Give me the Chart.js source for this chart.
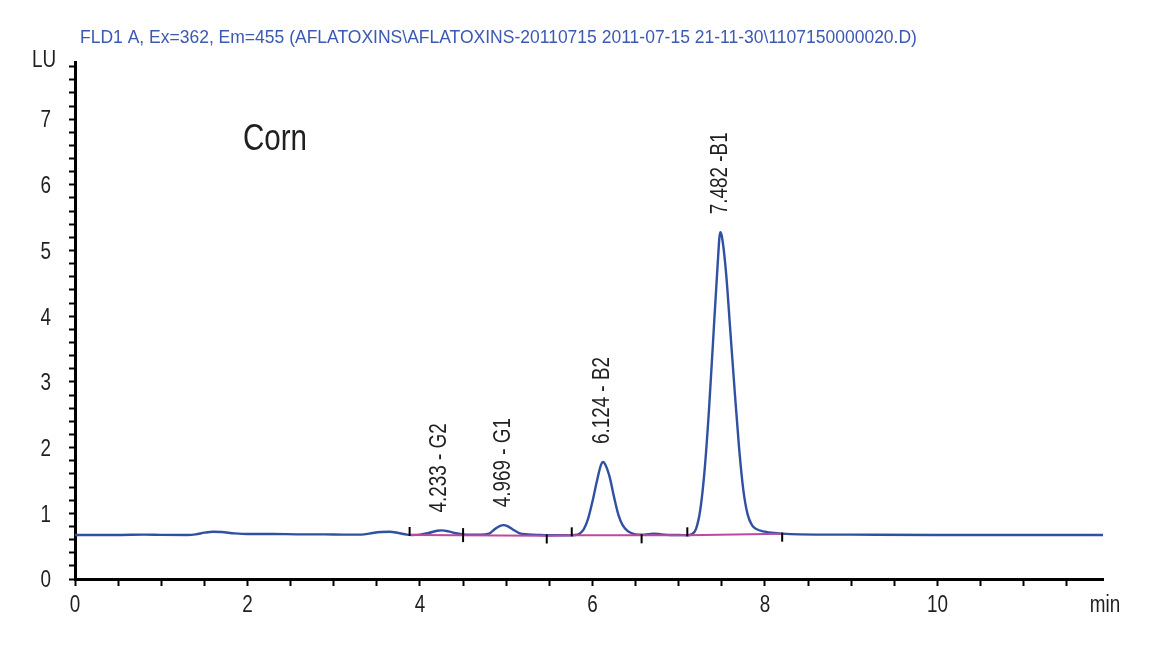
<!DOCTYPE html>
<html>
<head>
<meta charset="utf-8">
<script src="https://cdn.jsdelivr.net/npm/chart.js@4.4.1/dist/chart.umd.min.js"></script>
<style>
    html, body { margin: 0; padding: 0; background: #fff; }
    #wrap { width: 1160px; height: 649px; position: relative; }
</style>
</head>
<body>
<div id="wrap"><canvas id="chart1"></canvas></div>
<script>
// signal trace (min, LU)
const times = [
    0, 0.5, 0.8, 1.0, 1.3, 1.4, 1.5, 1.6, 1.7, 1.85, 2.0, 2.3, 2.6, 2.9, 3.1,
    3.2, 3.35, 3.45, 3.55, 3.65, 3.75, 3.85, 3.9,
    4.0, 4.1, 4.2, 4.25, 4.33, 4.4, 4.5, 4.6, 4.7,
    4.8, 4.87, 4.93, 4.97, 5.02, 5.08, 5.15, 5.25, 5.4, 5.55, 5.7,
    5.8, 5.85, 5.9, 5.95, 6.0, 6.05, 6.1, 6.124, 6.15, 6.2, 6.25, 6.3, 6.35, 6.4, 6.45, 6.5, 6.6, 6.7, 6.8, 6.9,
    7.0, 7.1, 7.15, 7.2, 7.25, 7.3, 7.35, 7.4, 7.45, 7.482, 7.5, 7.55, 7.6, 7.65, 7.7, 7.75, 7.8, 7.85, 7.9,
    8.0, 8.1, 8.2, 8.4, 9.0, 10.0, 11.92
]
const signal = [
    0.67, 0.67, 0.675, 0.672, 0.67, 0.68, 0.705, 0.72, 0.715, 0.695, 0.685, 0.685, 0.68, 0.68, 0.675,
    0.675, 0.68, 0.70, 0.715, 0.72, 0.70, 0.675, 0.67,
    0.675, 0.70, 0.735, 0.74, 0.725, 0.70, 0.68, 0.675, 0.675,
    0.69, 0.76, 0.81, 0.82, 0.80, 0.75, 0.70, 0.68, 0.67, 0.665, 0.665,
    0.67, 0.69, 0.76, 0.92, 1.18, 1.48, 1.74, 1.78, 1.74, 1.55, 1.25, 0.98, 0.82, 0.74, 0.70, 0.68, 0.675, 0.69, 0.68, 0.67,
    0.67, 0.665, 0.68, 0.76, 1.05, 1.65, 2.55, 3.65, 4.75, 5.28, 5.22, 4.65, 3.75, 2.85, 2.00, 1.35, 0.98, 0.82, 0.76,
    0.72, 0.70, 0.69, 0.68, 0.675, 0.67, 0.67
]

// integration baseline
const baseTimes = [3.88, 5.47, 5.76, 6.57, 7.10, 8.20]
const baseValues = [0.67, 0.66, 0.665, 0.665, 0.665, 0.69]

// peak start / end marks: direction 1 up, -1 down, 0 both
const markTimes = [3.88, 4.50, 5.47, 5.76, 6.57, 7.10, 8.20]
const markValues = [0.67, 0.668, 0.662, 0.665, 0.665, 0.665, 0.69]
const markDirs = [1, 0, -1, 1, -1, 1, -1]

// peak annotations
const peakTimes = [4.233, 4.969, 6.124, 7.482]
const peakHeights = [0.74, 0.82, 1.78, 5.28]
const peakNames = ["4.233 - G2", "4.969 - G1", "6.124 - B2", "7.482 -B1"]

const titleText = "FLD1 A, Ex=362, Em=455 (AFLATOXINS\\AFLATOXINS-20110715 2011-07-15 21-11-30\\1107150000020.D)"
const sampleName = "Corn"

const sans = "'Liberation Sans', Arial, sans-serif"
const ink = "#1f1f1f"
const squeeze = 0.82  // no narrow face installed, so squash Liberation Sans

const isWhole = v => Math.abs(v - Math.round(v)) < 1e-6

function narrowText(ctx, text, x, y, size, align, angle) {
    ctx.save()
    ctx.translate(x, y)
    if (angle) ctx.rotate(angle)
    ctx.scale(squeeze, 1)
    ctx.font = size + "px " + sans
    ctx.textAlign = align
    ctx.textBaseline = "middle"
    ctx.fillText(text, 0, 0)
    ctx.restore()
}

const decorations = {
    id: "decorations",
    afterDatasetsDraw(chart) {
        const ctx = chart.ctx
        const xs = chart.scales.x, ys = chart.scales.y
        ctx.save()

        // baseline marks
        ctx.strokeStyle = "#000"
        ctx.lineWidth = 2
        markTimes.forEach((t, i) => {
            const px = xs.getPixelForValue(t)
            const py = ys.getPixelForValue(markValues[i])
            let a = py - 8, b = py + 1
            if (markDirs[i] < 0) { a = py - 1; b = py + 8 }
            if (markDirs[i] == 0) { a = py - 7; b = py + 7 }
            ctx.beginPath()
            ctx.moveTo(px, a)
            ctx.lineTo(px, b)
            ctx.stroke()
        })

        // peak labels, rotated
        ctx.fillStyle = ink
        peakTimes.forEach((t, i) => {
            const px = xs.getPixelForValue(t)
            const py = ys.getPixelForValue(peakHeights[i]) - 18
            narrowText(ctx, peakNames[i], px, py, 23, "left", -Math.PI / 2)
        })
        ctx.restore()
    },
    afterDraw(chart) {
        const ctx = chart.ctx
        const area = chart.chartArea
        const xs = chart.scales.x, ys = chart.scales.y
        ctx.save()

        ctx.fillStyle = "#3b59b3"
        ctx.font = "17.5px " + sans
        ctx.textAlign = "left"
        ctx.textBaseline = "middle"
        ctx.fillText(titleText, 80, 38)

        ctx.fillStyle = ink
        // tick labels
        xs.ticks.forEach(tk => {
            if (isWhole(tk.value) && Math.round(tk.value) % 2 == 0)
                narrowText(ctx, String(Math.round(tk.value)), xs.getPixelForValue(tk.value), area.bottom + 27, 23, "center")
        })
        ys.ticks.forEach(tk => {
            if (isWhole(tk.value))
                narrowText(ctx, String(Math.round(tk.value)), 51, ys.getPixelForValue(tk.value) + 2, 23, "right")
        })

        narrowText(ctx, "LU", 56, area.top - 1, 23, "right")
        narrowText(ctx, "min", area.right + 2, area.bottom + 27, 23, "center")
        narrowText(ctx, sampleName, 243, 140, 36, "left")
        ctx.restore()
    }
}

const chartData = {
    type: "line",
    data: {
        datasets: [
            {
                label: "baseline",
                data: baseTimes.map((t, i) => ({ x: t, y: baseValues[i] })),
                borderColor: "#bb4a9e",
                borderWidth: 2,
                pointRadius: 0,
                order: 0
            },
            {
                label: "FLD1 A",
                data: times.map((t, i) => ({ x: t, y: signal[i] })),
                borderColor: "#3050a2",
                borderWidth: 2.4,
                pointRadius: 0,
                cubicInterpolationMode: "monotone",
                order: 1
            }
        ]
    },
    options: {
        responsive: true,
        maintainAspectRatio: false,
        animation: false,
        layout: { padding: { top: 62, right: 57, left: 0, bottom: 0 } },
        plugins: {
            legend: { display: false },
            tooltip: { enabled: false }
        },
        scales: {
            x: {
                type: "linear",
                min: 0,
                max: 11.92,
                afterFit(scale) { scale.height = 70 },
                border: { display: true, color: "#000", width: 3 },
                grid: { drawOnChartArea: false, drawTicks: true, tickLength: 7, tickColor: "#000", tickWidth: 2 },
                ticks: {
                    stepSize: 0.5,
                    includeBounds: false,
                    autoSkip: false,
                    maxRotation: 0,
                    color: "rgba(0,0,0,0)",
                    callback: v => isWhole(v) ? String(Math.round(v)) : ""
                }
            },
            y: {
                type: "linear",
                min: 0,
                max: 7.87,
                afterFit(scale) { scale.width = 75 },
                border: { display: true, color: "#000", width: 3 },
                grid: { drawOnChartArea: false, drawTicks: true, tickLength: 6, tickColor: "#000", tickWidth: 2 },
                ticks: {
                    stepSize: 0.2,
                    includeBounds: false,
                    autoSkip: false,
                    color: "rgba(0,0,0,0)",
                    callback: v => isWhole(v) ? String(Math.round(v)) : ""
                }
            }
        }
    },
    plugins: [decorations]
}

const ctx = document.getElementById("chart1").getContext("2d")
new Chart(ctx, chartData)
</script>
</body>
</html>
